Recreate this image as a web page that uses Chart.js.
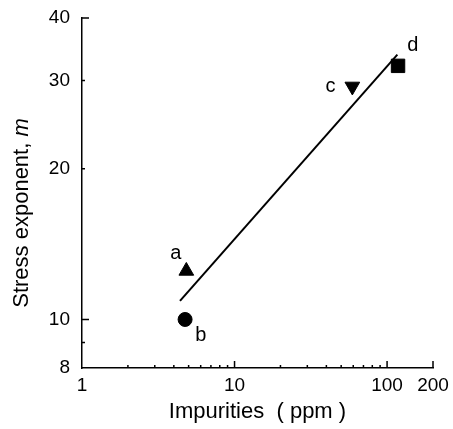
<!DOCTYPE html>
<html><head><meta charset="utf-8">
<script src="https://cdn.jsdelivr.net/npm/chart.js@4"></script>
<style>html,body{margin:0;padding:0;background:#fff}</style>
</head><body>
<canvas id="c" width="453" height="429"></canvas>
<script>
// ---- data ----
const sampleNames = ['a', 'b', 'c', 'd'];
const impurities = [4.83, 4.74, 59.2, 118];
const stressExponent = [12.5, 10.0, 29.2, 32.1];
const markerShapes = ['triangle', 'circle', 'triangle', 'rect'];
const fitX = [4.39, 116.8];
const fitY = [10.89, 33.8];
const xTickValues = [1, 10, 100, 200];
const yTickValues = [8, 10, 20, 30, 40];
const xMajorTicks = [10, 100, 200];
const xMinorTicks = [2, 3, 4, 5, 6, 7, 8, 9, 20, 30, 40, 50, 60, 70, 80, 90];
const yMajorTicks = [10, 40];
const yMinorTicks = [9, 20, 30];
const xTitle = 'Impurities  ( ppm )';
const yTitleMain = 'Stress exponent, ';
const yTitleVar = 'm';

const FONT = "'Liberation Sans', Arial, Helvetica, sans-serif";

const axisTicks = {
  id: 'axisTicks',
  afterDraw(chart) {
    const {ctx, scales: {x, y}, chartArea: a} = chart;
    ctx.save();
    ctx.strokeStyle = '#000';
    ctx.lineWidth = 1.5;
    ctx.beginPath();
    const xt = (vals, len) => vals.forEach(v => {
      const p = x.getPixelForValue(v);
      ctx.moveTo(p, a.bottom); ctx.lineTo(p, a.bottom - len);
    });
    const yt = (vals, len) => vals.forEach(v => {
      const p = y.getPixelForValue(v);
      ctx.moveTo(a.left, p); ctx.lineTo(a.left + len, p);
    });
    xt(xMajorTicks, 7); xt(xMinorTicks, 3);
    yt(yMajorTicks, 7); yt(yMinorTicks, 3);
    ctx.stroke();
    ctx.restore();
  }
};

const yTitlePlugin = {
  id: 'yTitle',
  afterDraw(chart) {
    const {ctx, scales: {y}, chartArea: a} = chart;
    const f1 = `22px ${FONT}`, f2 = `italic 22px ${FONT}`;
    ctx.save();
    ctx.translate(y.left + 27.5, (a.top + a.bottom) / 2 + 20);
    ctx.rotate(-Math.PI / 2);
    ctx.fillStyle = '#000';
    ctx.textBaseline = 'alphabetic';
    ctx.textAlign = 'left';
    ctx.font = f1; const w1 = ctx.measureText(yTitleMain).width;
    ctx.font = f2; const w2 = ctx.measureText(yTitleVar).width;
    const x0 = -(w1 + w2) / 2;
    ctx.font = f1; ctx.fillText(yTitleMain, x0, 0);
    ctx.font = f2; ctx.fillText(yTitleVar, x0 + w1, 0);
    ctx.restore();
  }
};

const pointLabels = {
  id: 'pointLabels',
  afterDatasetsDraw(chart, args, opts) {
    const {ctx} = chart;
    const meta = chart.getDatasetMeta(1);
    ctx.save();
    ctx.fillStyle = '#000';
    ctx.font = `20px ${FONT}`;
    ctx.textAlign = 'center';
    ctx.textBaseline = 'alphabetic';
    meta.data.forEach((el, i) => {
      const o = opts.offsets[i];
      ctx.fillText(sampleNames[i], el.x + o[0], el.y + o[1]);
    });
    ctx.restore();
  }
};

new Chart(document.getElementById('c'), {
  data: {
    datasets: [
      {
        type: 'line',
        data: fitX.map((v, i) => ({x: v, y: fitY[i]})),
        borderColor: '#000',
        borderWidth: 2,
        pointRadius: 0,
        fill: false,
        order: 2
      },
      {
        type: 'scatter',
        data: impurities.map((v, i) => ({x: v, y: stressExponent[i]})),
        pointStyle: markerShapes,
        rotation: [0, 0, 180, 0],
        pointRadius: [8.5, 7, 8.5, 9.5],
        backgroundColor: '#000',
        borderColor: '#000',
        borderWidth: 1,
        order: 1
      }
    ]
  },
  options: {
    responsive: false,
    animation: false,
    layout: {padding: {top: 18, right: 20, left: 0, bottom: 0}},
    plugins: {
      legend: {display: false},
      tooltip: {enabled: false},
      pointLabels: {offsets: [[-10.6, -12.3], [15.8, 21.7], [-21.8, 5.7], [14.8, -15.3]]}
    },
    scales: {
      x: {
        type: 'logarithmic',
        min: 1, max: 200,
        afterBuildTicks: s => { s.ticks = xTickValues.map(v => ({value: v})); },
        afterFit: s => { s.height = 61; s.paddingLeft = 0; s.paddingRight = 0; },
        grid: {display: false, drawTicks: false},
        border: {display: true, color: '#000', width: 1.5},
        ticks: {
          autoSkip: false, maxRotation: 0, padding: 6, color: '#000',
          font: {family: FONT, size: 19},
          callback: v => String(v)
        },
        title: {
          display: true, text: xTitle, color: '#000',
          font: {family: FONT, size: 22},
          padding: {top: 0, bottom: 3.5}
        }
      },
      y: {
        type: 'logarithmic',
        min: 8, max: 40,
        afterBuildTicks: s => { s.ticks = yTickValues.map(v => ({value: v})); },
        afterFit: s => { s.width = 82; s.paddingTop = 0; s.paddingBottom = 0; },
        grid: {display: false, drawTicks: false},
        border: {display: true, color: '#000', width: 1.5},
        ticks: {
          autoSkip: false, padding: 12, color: '#000',
          font: {family: FONT, size: 19},
          callback: v => String(v)
        },
        title: {display: false}
      }
    }
  },
  plugins: [axisTicks, yTitlePlugin, pointLabels]
});
</script>
</body></html>
